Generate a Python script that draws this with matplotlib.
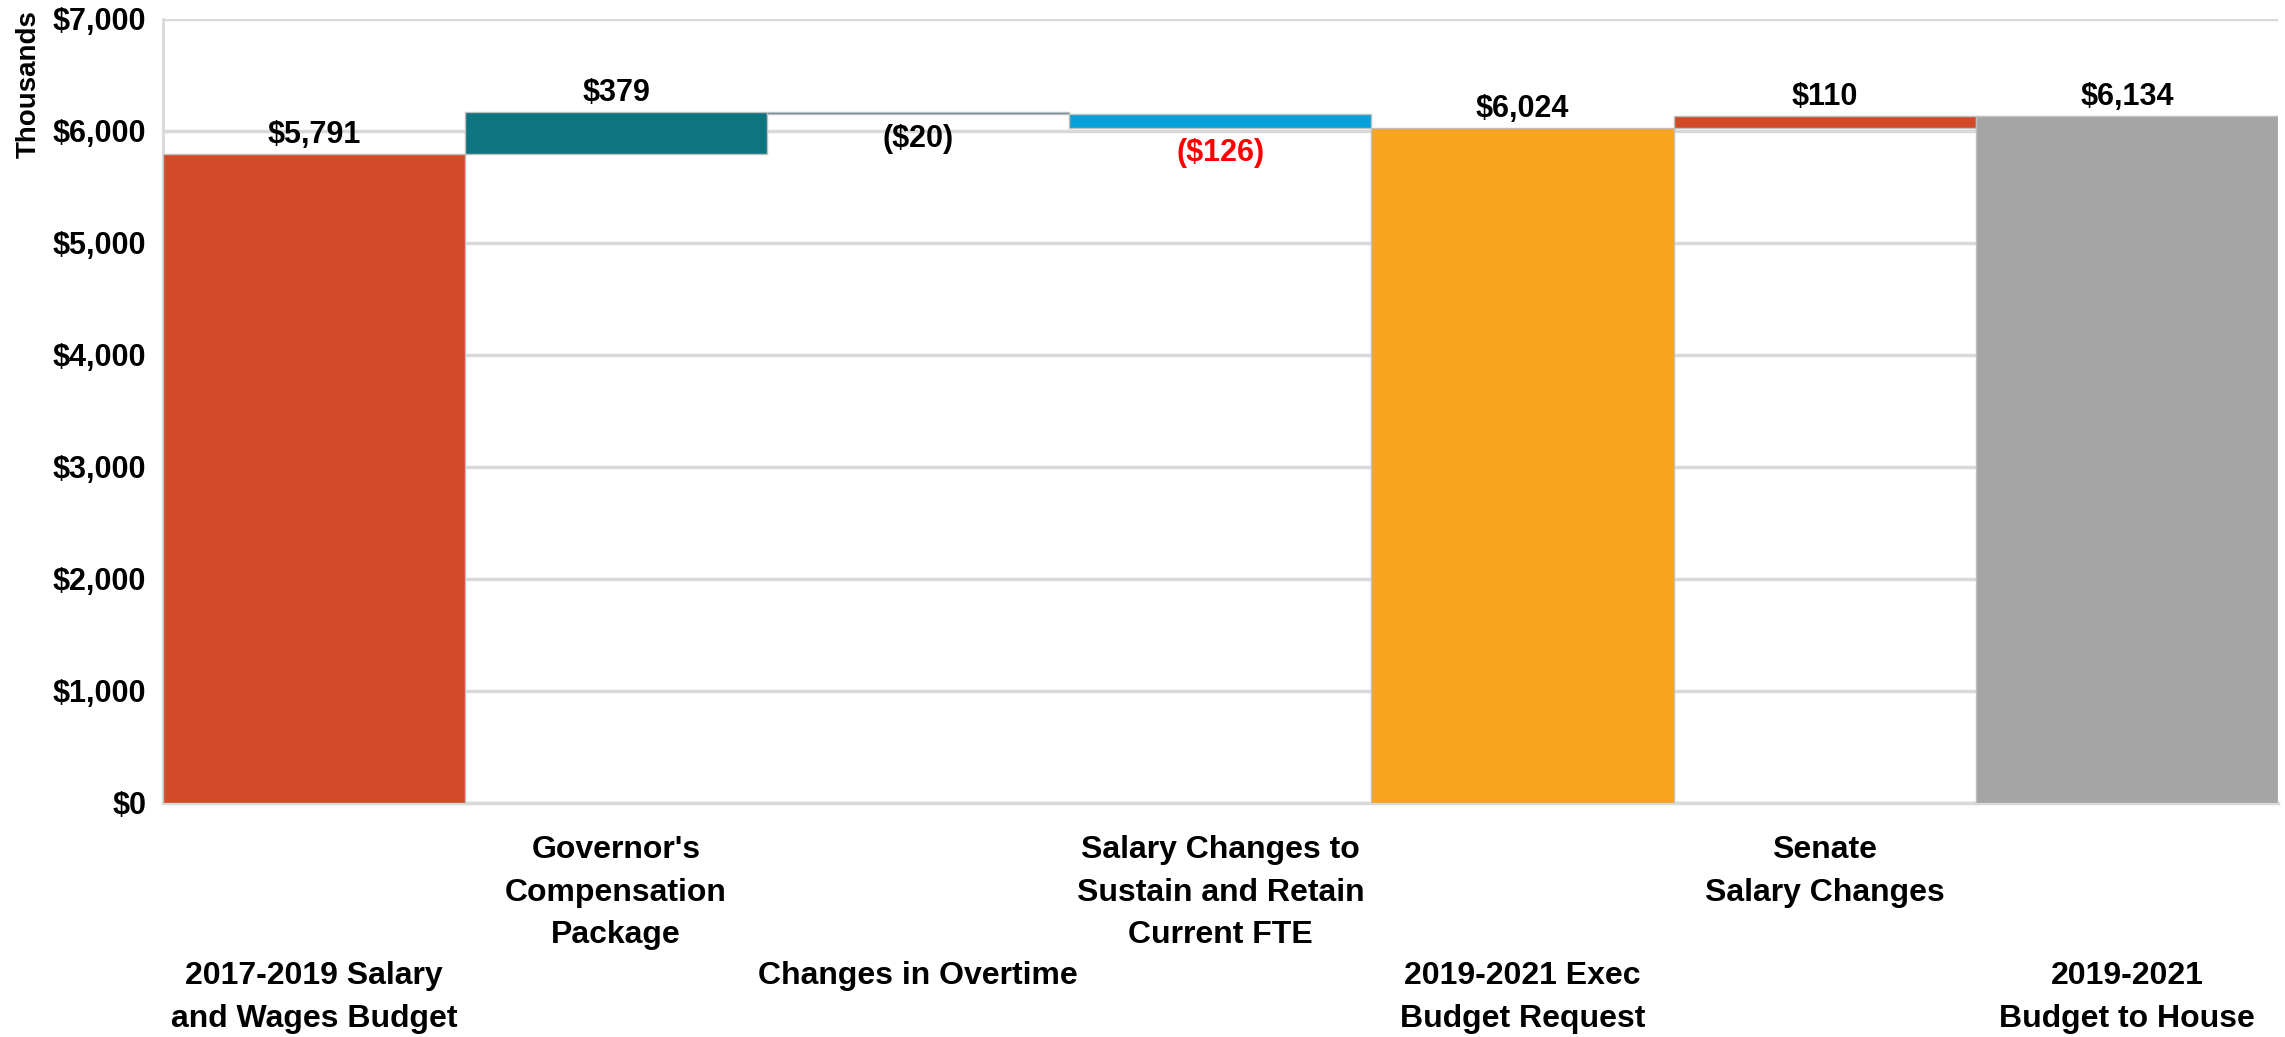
import matplotlib
matplotlib.use("Agg")
import matplotlib.pyplot as plt
from matplotlib.ticker import FuncFormatter
from matplotlib import font_manager

# data
categories = ["2017-2019 Salary\nand Wages Budget",
              "Governor's\nCompensation\nPackage",
              "Changes in Overtime",
              "Salary Changes to\nSustain and Retain\nCurrent FTE",
              "2019-2021 Exec\nBudget Request",
              "Senate\nSalary Changes",
              "2019-2021\nBudget to House"]
values = [5791, 379, -20, -126, 6024, 110, 6134]
is_total = [True, False, False, False, True, False, True]
bar_colors = ["#D24A27", "#0D7580", "#3A7A83", "#06A1D9", "#F8A420", "#D24A27", "#A5A5A5"]
label_colors = ["black", "black", "black", "#FF0000", "black", "black", "black"]
yticks = [0, 1000, 2000, 3000, 4000, 5000, 6000, 7000]

names = {f.name for f in font_manager.fontManager.ttflist}
fam = "Liberation Sans Narrow" if "Liberation Sans Narrow" in names else "Liberation Sans"
plt.rcParams["font.family"] = [fam, "DejaVu Sans"]
plt.rcParams["font.weight"] = "bold"

fig = plt.figure(figsize=(22.85, 10.37), dpi=100)
ax = fig.add_axes([0.0713, 0.2257, 0.9256, 0.756])

# waterfall bottoms
bottoms = []
heights = []
running = 0
for v, tot in zip(values, is_total):
    if tot:
        bottoms.append(0)
        heights.append(v)
        running = v
    else:
        if v >= 0:
            bottoms.append(running)
        else:
            bottoms.append(running + v)
        heights.append(abs(v))
        running += v

x = list(range(len(values)))
ax.bar(x, heights, bottom=bottoms, width=1.0, color=bar_colors,
       edgecolor="#BFBFBF", linewidth=1, zorder=3)

for i, v in enumerate(values):
    top = bottoms[i] + heights[i]
    if v >= 0:
        txt = f"${v:,}"
        ax.annotate(txt, (i, top), xytext=(0, 3), textcoords="offset points",
                    ha="center", va="bottom", fontsize=22, fontweight="bold",
                    color=label_colors[i], zorder=5)
    else:
        txt = f"(${-v:,})"
        ax.annotate(txt, (i, bottoms[i]), xytext=(0, -7), textcoords="offset points",
                    ha="center", va="top", fontsize=22, fontweight="bold",
                    color=label_colors[i], zorder=5)

ax.set_xlim(-0.5, len(values) - 0.5)
ax.set_ylim(0, 7000)
ax.set_yticks(yticks)
ax.yaxis.set_major_formatter(FuncFormatter(lambda v, p: f"${int(v):,}"))
ax.set_xticks(x)
ax.set_xticklabels(categories, fontsize=23, fontweight="bold", linespacing=1.55)
for i, t in enumerate(ax.xaxis.get_major_ticks()):
    t.set_pad(23 if i % 2 == 1 else 114)
ax.tick_params(axis="x", length=0)
ax.tick_params(axis="y", length=0, labelsize=22, pad=12)

ax.grid(axis="y", color="#D9D9D9", linewidth=2.5, zorder=0)
ax.set_axisbelow(True)
for s in ["top", "right"]:
    ax.spines[s].set_visible(False)
ax.spines["left"].set_color("#D9D9D9")
ax.spines["left"].set_linewidth(2)
ax.spines["bottom"].set_color("#D9D9D9")
ax.spines["bottom"].set_linewidth(2.5)

fig.text(0.0125, 0.99, "Thousands", rotation=90, ha="center", va="top",
         fontsize=20, fontweight="bold")

fig.savefig("out.png", dpi=100, facecolor="white")
